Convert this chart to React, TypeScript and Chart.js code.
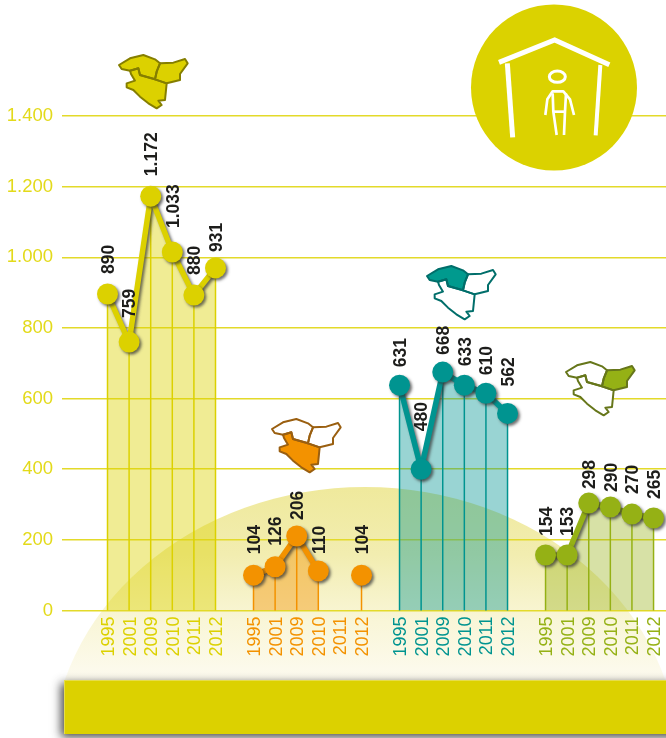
import React, { useEffect, useRef } from "react";
import { Chart, registerables } from "chart.js";

Chart.register(...registerables);

const years = ["1995", "2001", "2009", "2010", "2011", "2012"];
const yTicks = [0, 200, 400, 600, 800, 1000, 1200, 1400];

// Heights at which the reference places its points (they do not always agree with the printed figures).
const yellowValues = [896, 760, 1173, 1015, 893, 970];
const orangeValues = [100, 124, 211, 112, null, 100];
const tealValues = [638, 400, 675, 638, 615, 558];
const greenValues = [157, 157, 304, 293, 273, 262];

// Figures printed above the points.
const yellowLabels = ["890", "759", "1.172", "1.033", "880", "931"];
const orangeLabels = ["104", "126", "206", "110", "", "104"];
const tealLabels = ["631", "480", "668", "633", "610", "562"];
const greenLabels = ["154", "153", "298", "290", "270", "265"];

// Styling / layout, kept apart from the data.
const groupStarts = [0, 6.76, 13.52, 20.28];
const SLOT = 21.6;
const X_MIN = (62 - 107.5) / SLOT;
const X_MAX = (666 - 107.5) / SLOT;
const yellowLift = [20, 24, 20, 24, 20, 16];
const orangeLift = [21, 21, 16, 17, 0, 21];
const tealLift = [18, 38, 17, 19, 18, 27];
const greenLift = [19, 19, 14, 15, 20, 19];

const YELLOW = "#dcd100";
const ORANGE = "#f39200";
const TEAL = "#009490";
const GREEN = "#95b115";
const GRID = "#e3da2a";
const FONT = '"Liberation Sans", Arial, sans-serif';

type Group = { color: string; fill: string; values: (number | null)[]; labels: string[]; lift: number[]; start: number };
const groups: Group[] = [
  { color: YELLOW, fill: "rgba(220,209,0,0.42)", values: yellowValues, labels: yellowLabels, lift: yellowLift, start: groupStarts[0] },
  { color: ORANGE, fill: "rgba(243,146,0,0.42)", values: orangeValues, labels: orangeLabels, lift: orangeLift, start: groupStarts[1] },
  { color: TEAL, fill: "rgba(0,148,144,0.40)", values: tealValues, labels: tealLabels, lift: tealLift, start: groupStarts[2] },
  { color: GREEN, fill: "rgba(149,177,21,0.38)", values: greenValues, labels: greenLabels, lift: greenLift, start: groupStarts[3] },
];

const tickPositions = groups.flatMap((g) => years.map((_, i) => g.start + i));
const tickYears = groups.flatMap(() => years);
const tickColors = groups.flatMap((g) => years.map(() => g.color));

// Map outline (decoration), in 3x pixels.
const north1 = [[12, 45], [45, 25], [85, 15], [120, 28], [135, 40], [125, 65], [120, 88], [75, 75], [70, 55], [45, 62], [20, 57]];
const north2 = [[135, 40], [175, 38], [210, 27], [218, 40], [195, 72], [195, 90], [155, 100], [120, 88], [125, 65]];
const south = [[45, 62], [70, 55], [75, 75], [120, 88], [155, 100], [150, 150], [130, 152], [140, 165], [125, 175], [100, 160], [75, 140], [55, 120], [35, 112], [35, 100], [60, 92], [48, 72]];

function drawMap(ctx: CanvasRenderingContext2D, x: number, y: number, stroke: string, fill: string, filled: boolean[]) {
  const parts = [north1, north2, south];
  ctx.save();
  ctx.translate(x, y);
  ctx.scale(1 / 3, 1 / 3);
  ctx.translate(-13.5, -18);
  ctx.lineJoin = "round";
  ctx.lineWidth = 6;
  ctx.strokeStyle = stroke;
  parts.forEach((p, i) => {
    ctx.beginPath();
    p.forEach(([a, b], k) => (k ? ctx.lineTo(a, b) : ctx.moveTo(a, b)));
    ctx.closePath();
    ctx.fillStyle = filled[i] ? fill : "#ffffff";
    ctx.fill();
  });
  parts.forEach((p) => {
    ctx.beginPath();
    p.forEach(([a, b], k) => (k ? ctx.lineTo(a, b) : ctx.moveTo(a, b)));
    ctx.closePath();
    ctx.stroke();
  });
  ctx.restore();
}

function line(ctx: CanvasRenderingContext2D, pts: number[][], w: number) {
  ctx.lineWidth = w;
  ctx.beginPath();
  pts.forEach(([a, b], k) => (k ? ctx.lineTo(a, b) : ctx.moveTo(a, b)));
  ctx.stroke();
}

function drawBadge(ctx: CanvasRenderingContext2D) {
  ctx.save();
  ctx.fillStyle = "#dbd200";
  ctx.beginPath();
  ctx.arc(554, 87.5, 83, 0, Math.PI * 2);
  ctx.fill();
  ctx.save();
  ctx.translate(333, 0);
  ctx.scale(1 / 3, 1 / 3);
  ctx.strokeStyle = "#ffffff";
  ctx.lineJoin = "miter";
  line(ctx, [[498, 187], [665, 120], [829, 194]], 15);
  line(ctx, [[523, 190], [539, 412]], 15);
  line(ctx, [[802, 195], [788, 406]], 12);
  ctx.restore();
  ctx.translate(530, 60);
  ctx.scale(1 / 3, 1 / 3);
  ctx.strokeStyle = "#ffffff";
  ctx.lineJoin = "round";
  ctx.beginPath();
  ctx.ellipse(82, 50, 24, 17, 0, 0, Math.PI * 2);
  ctx.lineWidth = 9;
  ctx.stroke();
  line(ctx, [[46, 165], [52, 118], [68, 94], [100, 94], [120, 118], [132, 165]], 8);
  line(ctx, [[68, 100], [70, 155], [80, 225]], 8);
  line(ctx, [[108, 100], [105, 155], [102, 225]], 8);
  line(ctx, [[70, 155], [105, 155]], 8);
  ctx.restore();
}

const decorPlugin = {
  id: "decor",
  afterLayout(chart: any) {
    // The rotated last tick label makes the layout reserve room on the right; the plot runs to the page edge.
    chart.chartArea.right = chart.width;
    chart.chartArea.width = chart.width - chart.chartArea.left;
    const s = chart.scales.x;
    s.left = chart.chartArea.left;
    s.right = chart.chartArea.right;
    s.width = s.right - s.left;
    s.configure();
  },
  beforeDraw(chart: any) {
    const ctx: CanvasRenderingContext2D = chart.ctx;
    ctx.save();
    ctx.beginPath();
    ctx.rect(0, 0, 666, 680);
    ctx.clip();
    const g = ctx.createLinearGradient(0, 487, 0, 680);
    g.addColorStop(0, "#efe99c");
    g.addColorStop(0.35, "#f2edb0");
    g.addColorStop(0.7, "#f9f6d8");
    g.addColorStop(1, "#fdfbf0");
    ctx.fillStyle = g;
    ctx.beginPath();
    ctx.ellipse(365, 760, 314, 273, 0, 0, Math.PI * 2);
    ctx.fill();
    ctx.restore();
  },
  beforeDatasetsDraw(chart: any) {
    const ctx: CanvasRenderingContext2D = chart.ctx;
    const { x, y } = chart.scales;
    ctx.save();
    ctx.lineWidth = 1.5;
    groups.forEach((g) => {
      ctx.strokeStyle = g.color;
      g.values.forEach((v, i) => {
        if (v === null) return;
        const px = x.getPixelForValue(g.start + i);
        ctx.beginPath();
        ctx.moveTo(px, y.getPixelForValue(0));
        ctx.lineTo(px, y.getPixelForValue(v));
        ctx.stroke();
      });
    });
    ctx.restore();
    drawBadge(ctx);
    drawMap(ctx, 119.5, 56, "#857e00", YELLOW, [true, true, true]);
    drawMap(ctx, 427.5, 267, "#006e6a", "#009a8e", [true, false, false]);
    drawMap(ctx, 272.5, 420, "#9a5f10", ORANGE, [false, false, true]);
    drawMap(ctx, 566.5, 363, "#66761a", GREEN, [false, true, false]);
  },
  beforeDatasetDraw(chart: any) {
    const ctx: CanvasRenderingContext2D = chart.ctx;
    ctx.save();
    ctx.shadowColor = "rgba(50,50,50,0.7)";
    ctx.shadowBlur = 3;
    ctx.shadowOffsetX = 2;
    ctx.shadowOffsetY = 2;
  },
  afterDatasetDraw(chart: any) {
    chart.ctx.restore();
  },
  afterDatasetsDraw(chart: any) {
    const ctx: CanvasRenderingContext2D = chart.ctx;
    const { x, y } = chart.scales;
    groups.forEach((g) => {
      g.values.forEach((v, i) => {
        if (v === null) return;
        ctx.save();
        ctx.translate(x.getPixelForValue(g.start + i), y.getPixelForValue(v) - g.lift[i]);
        ctx.rotate(-Math.PI / 2);
        ctx.font = `bold 17.5px ${FONT}`;
        ctx.fillStyle = "#1d1d1b";
        ctx.textAlign = "left";
        ctx.textBaseline = "middle";
        ctx.fillText(g.labels[i], 0, 1.5);
        ctx.restore();
      });
    });
  },
  afterDraw(chart: any) {
    const ctx: CanvasRenderingContext2D = chart.ctx;
    ctx.save();
    ctx.shadowColor = "rgba(40,40,40,0.85)";
    ctx.shadowBlur = 9;
    ctx.shadowOffsetX = -3;
    ctx.shadowOffsetY = 3;
    ctx.fillStyle = YELLOW;
    ctx.fillRect(64, 680, 640, 54);
    ctx.restore();
    ctx.fillStyle = "#e6dd4a";
    ctx.fillRect(64, 680, 602, 1);
    ctx.fillRect(64, 680, 1, 54);
  },
};

export default function App() {
  const ref = useRef<HTMLCanvasElement>(null);
  useEffect(() => {
    const chart = new Chart(ref.current!, {
      type: "line",
      data: {
        datasets: groups.map((g) => ({
          data: g.values.map((v, i) => ({ x: g.start + i, y: v })),
          borderColor: g.color,
          backgroundColor: g.fill,
          fill: "origin",
          borderWidth: 5.5,
          tension: 0,
          spanGaps: false,
          clip: false,
          pointRadius: 10.5,
          pointBackgroundColor: g.color,
          pointBorderWidth: 0,
        })),
      },
      options: {
        animation: false,
        responsive: false,
        events: [],
        layout: { padding: { top: 116, left: 0, right: 0, bottom: 0 } },
        plugins: { legend: { display: false }, tooltip: { enabled: false } },
        scales: {
          x: {
            type: "linear",
            bounds: "data",
            min: X_MIN,
            max: X_MAX,
            border: { display: false },
            grid: { display: false },
            afterBuildTicks: (s: any) => {
              s.min = X_MIN;
              s.max = X_MAX;
              s.ticks = tickPositions.map((value) => ({ value }));
            },
            afterFit: (s: any) => {
              s.height = 127.5;
            },
            ticks: {
              autoSkip: false,
              minRotation: 90,
              maxRotation: 90,
              padding: -2,
              labelOffset: 1.5,
              font: { family: FONT, size: 18 },
              color: (c: any) => tickColors[c.index],
              callback: (_v: any, i: number) => tickYears[i],
            },
          },
          y: {
            min: 0,
            max: 1400,
            border: { display: false },
            afterBuildTicks: (s: any) => {
              s.ticks = yTicks.map((value) => ({ value }));
            },
            afterFit: (s: any) => {
              s.width = 62;
            },
            grid: { color: GRID, lineWidth: 1.5, drawTicks: false },
            ticks: {
              padding: 9,
              font: { family: FONT, size: 18.5 },
              color: "#e3da1a",
              callback: (v: any) => String(v).replace(/\B(?=(\d{3})+$)/g, "."),
            },
          },
        },
      },
      plugins: [decorPlugin],
    } as any);
    return () => chart.destroy();
  }, []);
  return (
    <div style={{ position: "fixed", left: 0, top: 0, width: 666, height: 738, background: "#fff", overflow: "hidden" }}>
      <canvas ref={ref} width={666} height={738} style={{ display: "block" }} />
    </div>
  );
}
